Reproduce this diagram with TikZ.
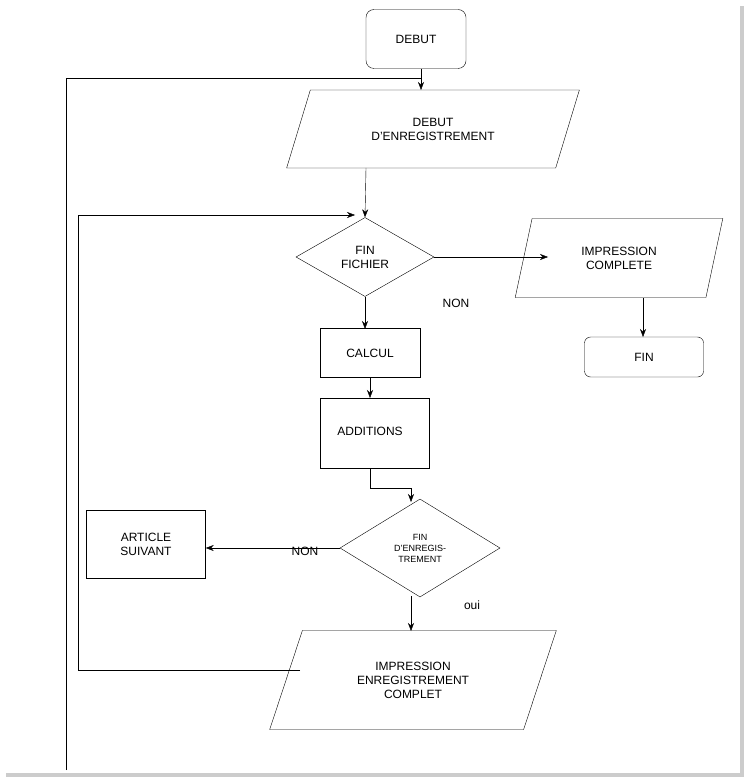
\documentclass[tikz,border=0pt]{standalone}
\usepackage{fontspec}
\setmainfont{Liberation Sans}
\usetikzlibrary{shapes.geometric,positioning,arrows.meta}
\tikzset{
  box/.style={draw, rectangle, align=center, inner sep=0pt},
  para/.style={draw, trapezium, trapezium stretches=true, align=center, inner sep=0pt},
  choice/.style={draw, diamond, aspect=1.75, align=center, inner sep=0pt}
}
\begin{document}
\begin{tikzpicture}[x=1pt, y=-1pt, >={Stealth[length=8pt,width=6pt]}, font=\fontsize{12}{14}\selectfont]
\useasboundingbox (0,0) rectangle (750,783);
\fill[gray!40] (6,6) rectangle (744,777);
\fill[white] (0,0) rectangle (740,773);

\node [box, rounded corners=8pt, minimum width=100pt, minimum height=59pt] (debut) at (416,39) {DEBUT};
\node [para, trapezium left angle=62, trapezium right angle=118, minimum width=293pt, minimum height=78pt] (enreg) at (433,129) {DEBUT\\D'ENREGISTREMENT};
\node [choice, minimum width=138pt, minimum height=79pt] (fichier) at (365,257) {FIN\\FICHIER};
\node [para, trapezium left angle=72, trapezium right angle=108, minimum width=208pt, minimum height=79pt] (complete) at (619,258) {IMPRESSION\\COMPLETE\hspace{20pt}};
\node [box, rounded corners=6pt, minimum width=119pt, minimum height=40pt] (fin) at (644,357) {FIN};
\node [box, minimum width=100pt, minimum height=49pt] (calcul) at (370,353) {CALCUL};
\node [box, minimum width=109pt, minimum height=70pt, anchor=north west] (additions) at (320,398) {};
\node at (370,431) {ADDITIONS};
\node [choice, minimum width=160pt, minimum height=98pt, font=\fontsize{9}{11}\selectfont] (ligne) at (420,548) {FIN\\D'ENREGIS-\\TREMENT};
\node [box, minimum width=119pt, minimum height=68pt] (article) at (146,544) {ARTICLE\\SUIVANT};
\node [para, trapezium left angle=65.6, trapezium right angle=114.4, minimum width=287pt, minimum height=99pt] (imprime) at (413,680) {IMPRESSION\\ENREGISTREMENT\\COMPLET};

\node (non1) at (456,303) {NON};
\node (non2) at (305,551) {NON};
\node (oui) at (472,605) {oui};

\coordinate (entree) at (421,78);
\coordinate (bas) at (66,770);
\coordinate (retour) at (78,215);

\draw [->] (421,69) -- (421,90);
\draw (bas) -- (66,78) -- (entree);
\draw [->] (366,168) -- (fichier.north);
\draw [->] (fichier.east) -- (548,257);
\draw [->] (643,298) -- (643,337);
\draw [->] (fichier.south) -- (365,329);
\draw [->] (370,378) -- (370,398);
\draw [->] (370,468) -- (370,488) -- (411,488) -- (411,502);
\draw [->] (ligne.west) -- (article.east |- ligne.west);
\draw [->] (411,596) -- (411,631);
\draw [->] (300,670) -- (78,670) -- (retour) -- (355,215);
\end{tikzpicture}
\end{document}
